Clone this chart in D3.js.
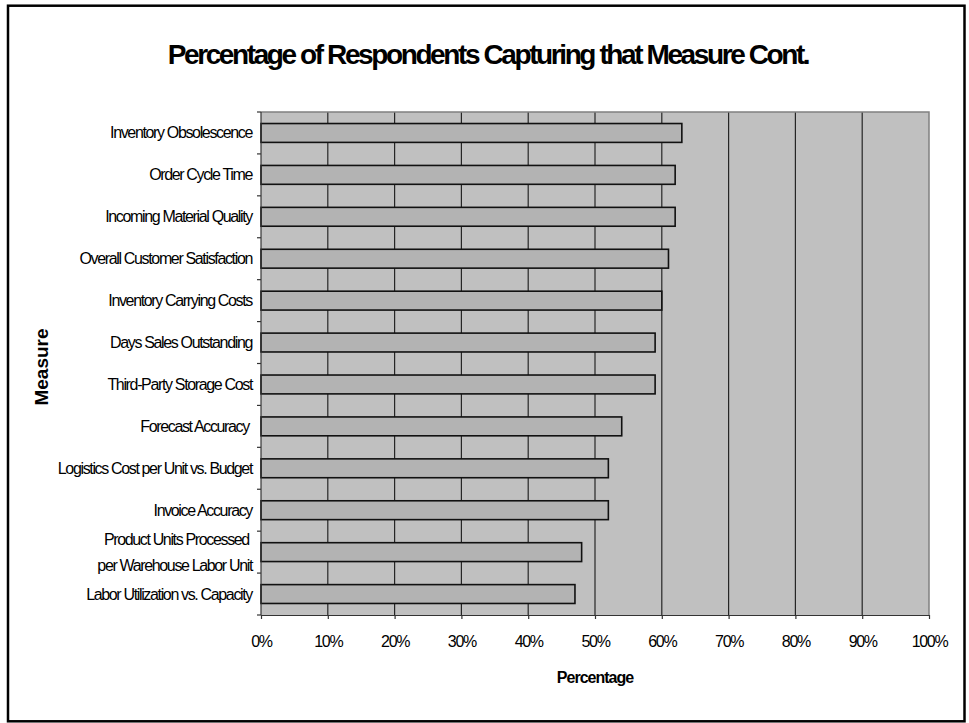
<!DOCTYPE html>
<html>
<head>
<meta charset="utf-8">
<script src="https://cdn.jsdelivr.net/npm/d3@7"></script>
<style>
  html, body { margin: 0; padding: 0; background: #fff; }
  svg text { font-family: "Liberation Sans", Arial, sans-serif; white-space: pre; }
</style>
</head>
<body>
<svg id="chart" width="969" height="723"></svg>
<script>
// ---- data ----
const categories = [
  "Inventory Obsolescence",
  "Order Cycle Time",
  "Incoming Material Quality",
  "Overall Customer Satisfaction",
  "Inventory Carrying Costs",
  "Days Sales Outstanding",
  "Third-Party Storage Cost",
  "Forecast Accuracy ",
  "Logistics Cost per Unit vs. Budget",
  "Invoice Accuracy",
  "Product Units Processed \nper Warehouse Labor Unit",
  "Labor Utilization vs. Capacity"
];
const values = [63, 62, 62, 61, 60, 59, 59, 54, 52, 52, 48, 47];
const xTicks = [0, 10, 20, 30, 40, 50, 60, 70, 80, 90, 100];
const titleText = "Percentage of Respondents Capturing that Measure Cont.";
const xTitle = "Percentage";
const yTitle = "Measure";

(function () {
// ---- layout ----
const svg = d3.select("#chart");
const pLeft = 261, pRight = 929, pTop = 112, pBottom = 615;

// outer frame
svg.append("rect")
  .attr("x", 8).attr("y", 5.7).attr("width", 956.5).attr("height", 715.6)
  .attr("fill", "#fff").attr("stroke", "#000").attr("stroke-width", 2.5);

const x = d3.scaleLinear().domain([0, 100]).range([pLeft, pRight]);
const y = d3.scaleBand().domain(categories).range([pTop, pBottom]).paddingInner(0.55).paddingOuter(0.275);
const yBand = d3.scaleBand().domain(categories).range([pTop, pBottom]);

// plot background
svg.append("rect")
  .attr("x", pLeft).attr("y", pTop).attr("width", pRight - pLeft).attr("height", pBottom - pTop)
  .attr("fill", "#c0c0c0");

// gridlines
svg.append("g").selectAll("line").data(xTicks.filter(d => d > 0 && d < 100)).join("line")
  .attr("x1", d => x(d)).attr("x2", d => x(d))
  .attr("y1", pTop).attr("y2", pBottom)
  .attr("stroke", "#262626").attr("stroke-width", 1.2);

// plot border (top & right gray)
svg.append("path")
  .attr("d", `M${pLeft},${pTop}H${pRight}V${pBottom}`)
  .attr("fill", "none").attr("stroke", "#808080").attr("stroke-width", 1.5);

// bars
svg.append("g").selectAll("rect").data(values).join("rect")
  .attr("x", x(0))
  .attr("y", (d, i) => y(categories[i]))
  .attr("width", d => x(d) - x(0))
  .attr("height", y.bandwidth())
  .attr("fill", "#b3b3b3")
  .attr("stroke", "#111").attr("stroke-width", 1.6);

// x axis
const xAxis = d3.axisBottom(x).tickValues(xTicks).tickFormat(d => d + "%").tickSize(4).tickSizeOuter(0);
const gx = svg.append("g").attr("transform", `translate(0,${pBottom})`).call(xAxis);
gx.select(".domain").attr("stroke", "#333").attr("stroke-width", 1.2);
gx.selectAll(".tick line").attr("stroke", "#333").attr("stroke-width", 1.2);
gx.selectAll(".tick text")
  .attr("y", 0).attr("dy", null)
  .attr("transform", "translate(0,32)")
  .attr("fill", "#000")
  .style("font-size", "16px").style("letter-spacing", "-1.3px")
  .style("font-family", '"Liberation Sans", Arial, sans-serif');

// y axis
const gy = svg.append("g");
gy.append("line").attr("x1", pLeft).attr("x2", pLeft).attr("y1", pTop).attr("y2", pBottom)
  .attr("stroke", "#333").attr("stroke-width", 1.2);
const boundaries = categories.map(c => yBand(c)).concat([pBottom]);
gy.selectAll("line.tk").data(boundaries).join("line").attr("class", "tk")
  .attr("x1", pLeft - 4).attr("x2", pLeft).attr("y1", d => d).attr("y2", d => d)
  .attr("stroke", "#333").attr("stroke-width", 1.2);

// y labels
const lab = gy.selectAll("text.lab").data(categories).join("text").attr("class", "lab")
  .attr("text-anchor", "end")
  .style("font-size", "16px").style("letter-spacing", "-1.35px")
  .attr("fill", "#000");
lab.each(function (c) {
  const lines = c.split("\n");
  const cy = yBand(c) + yBand.bandwidth() / 2 + 5.5;
  const sel = d3.select(this);
  lines.forEach((t, j) => {
    sel.append("tspan")
      .attr("x", pLeft - 9)
      .attr("y", cy + (j - (lines.length - 1) / 2) * 26)
      .text(t);
  });
});

// titles
svg.append("text")
  .attr("x", 488).attr("y", 63.5).attr("text-anchor", "middle")
  .style("font-size", "28px").style("font-weight", "bold").style("letter-spacing", "-2.4px")
  .text(titleText);

svg.append("text")
  .attr("x", (pLeft + pRight) / 2).attr("y", 683).attr("text-anchor", "middle")
  .style("font-size", "16px").style("font-weight", "bold").style("letter-spacing", "-1px")
  .text(xTitle);

svg.append("text")
  .attr("transform", `translate(48,367) rotate(-90)`)
  .attr("text-anchor", "middle")
  .style("font-size", "19px").style("font-weight", "bold")
  .text(yTitle);
})();
</script>
</body>
</html>
